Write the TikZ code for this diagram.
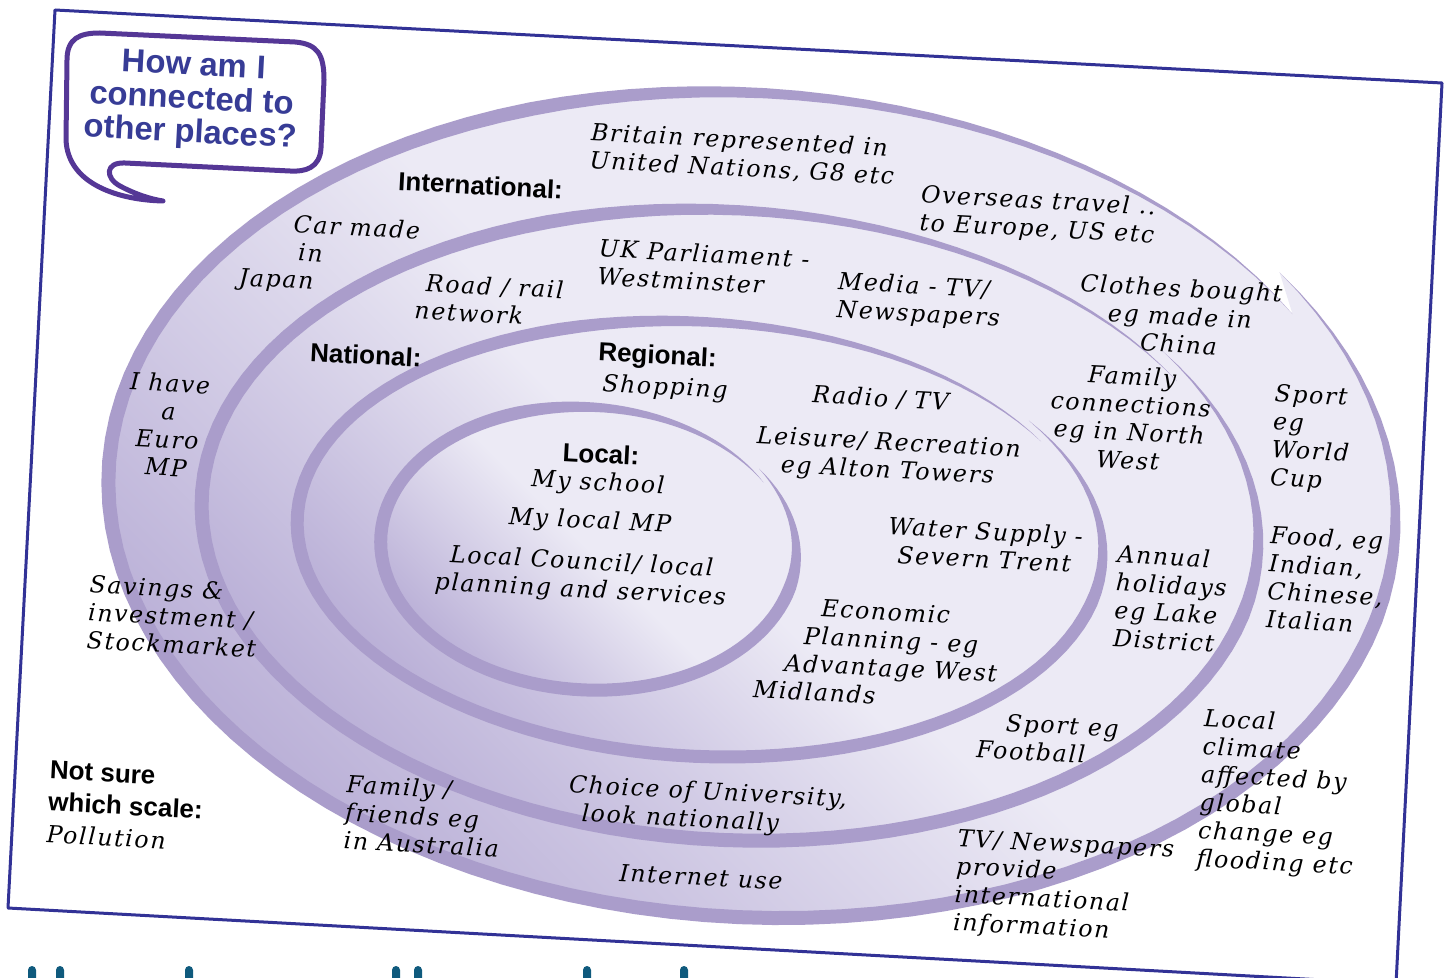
\documentclass[tikz,border=0pt]{standalone}
\usepackage{fontspec}
\setsansfont{Liberation Sans}
\newfontfamily\handfont{DejaVu Serif}[LetterSpace=7]
\usetikzlibrary{calc}
\definecolor{bandcolor}{RGB}{170,157,203}
\definecolor{ringfill}{RGB}{236,234,245}
\definecolor{ringdark}{RGB}{186,176,215}
\definecolor{cardline}{RGB}{50,50,150}
\definecolor{bubbleline}{RGB}{85,55,150}
\definecolor{questioncolor}{RGB}{55,60,150}
\definecolor{titlecolor}{RGB}{15,90,125}

\begin{document}
\begin{tikzpicture}[
    x=0.5pt, y=-0.5pt,
    hand/.style={font=\handfont\itshape\fontsize{11.8}{14}\selectfont, align=center, rotate=-3, inner sep=0pt},
    scalelabel/.style={font=\sffamily\bfseries\fontsize{13}{16}\selectfont, align=left, rotate=-3, inner sep=0pt},
    question/.style={font=\sffamily\bfseries\fontsize{16.4}{16.8}\selectfont, text=questioncolor, align=center, rotate=-3, inner sep=0pt},
    ringshade/.style={top color=ringdark, bottom color=ringfill, middle color=ringfill, shading angle=135},
    band/.style={fill=bandcolor}
]
    \useasboundingbox (0,0) rectangle (1449,978);
    \fill[white] (0,0) rectangle (1449,978);

    % Card
    \draw[cardline, line width=1.5pt, line join=round] (55,10) -- (1442,83) -- (1396,984) -- (8,908) -- cycle;

    % Rings (outer to inner), each one a spiral turn
    \foreach \cx/\cy/\ra/\rb/\w/\d in {747/500/641/414/14/20, 727/522/527/316/14/12, 698/537/402/218/13/8, 587/547/207/142/13/6} {
        \begin{scope}[shift={(\cx,\cy)}, rotate=-3,
            declare function={rxx(\t)=\ra+\d/2-\d*\t/365; ryy(\t)=\rb+\d/2-\d*\t/365; bw(\t)=\w*min(1,\t/50,(365-\t)/80);}]
            \shade[ringshade] plot[domain=0:365, samples=120, variable=\t] ({rxx(\t)*cos(\t-37)}, {ryy(\t)*sin(\t-37)}) -- cycle;
            \fill[band] plot[domain=0:365, samples=120, variable=\t] ({(rxx(\t)+bw(\t)/2)*cos(\t-37)}, {(ryy(\t)+bw(\t)/2)*sin(\t-37)})
                -- plot[domain=365:0, samples=120, variable=\t] ({(rxx(\t)-bw(\t)/2)*cos(\t-37)}, {(ryy(\t)-bw(\t)/2)*sin(\t-37)}) -- cycle;
        \end{scope}
    }

    % Speech bubble
    \draw[bubbleline, line width=2.5pt, line cap=round, line join=round]
        (163,201) .. controls (120,200) and (68,185) .. (66,140) -- (67,60)
        .. controls (67,38) and (80,33) .. (100,33) -- (295,42)
        .. controls (318,44) and (324,55) .. (324,80) -- (321,148)
        .. controls (320,168) and (305,172) .. (290,171) -- (125,163)
        .. controls (105,162) and (105,178) .. (120,186)
        .. controls (135,194) and (150,199) .. (163,201);
    \node[question] (howam) at (192,101) {How am I\\connected to\\other places?};

    % International
    \node[scalelabel, anchor=west] (international) at (398,181) {International:};
    \node[hand, anchor=west, align=left] (britain) at (590,147) {Britain represented in\\United Nations, G8 etc};
    \node[hand, anchor=west, align=left] (overseas) at (920,210) {Overseas travel ..\\to Europe, US etc};
    \node[hand, anchor=west, align=left] (japan) at (240,251) {\hspace*{26pt}Car made\\\hspace*{29pt}in\\Japan};
    \node[hand] (clothes) at (1180,316) {Clothes bought\\eg made in\\China};
    \node[hand, anchor=west, align=left] (sportcup) at (1272,437) {Sport\\eg\\World\\Cup};
    \node[hand] (europ) at (168,425) {I have\\a\\Euro\\MP};
    \node[hand, anchor=west, align=left] (food) at (1268,577) {Food, eg\\Indian,\\Chinese,\\Italian};
    \node[hand, anchor=west, align=left] (savings) at (88,612) {Savings \&\\investment /\\Stockmarket};
    \node[hand, anchor=west, align=left] (australia) at (345,812) {Family /\\friends eg\\in Australia};
    \node[hand] (internet) at (701,877) {Internet use};
    \node[hand, anchor=west, align=left] (tvnews) at (955,882) {TV/ Newspapers\\provide\\international\\information};

    % National
    \node[scalelabel, anchor=west] (national) at (310,352) {National:};
    \node[hand, anchor=west, align=left] (parliament) at (598,262) {UK Parliament -\\Westminster};
    \node[hand, anchor=west, align=left] (road) at (415,296) {\hspace*{5pt}Road / rail\\network};
    \node[hand, anchor=west, align=left] (media) at (837,297) {Media - TV/\\Newspapers};
    \node[hand] (family) at (1130,418) {Family\\connections\\eg in North\\West};
    \node[hand, anchor=west, align=left] (holidays) at (1115,596) {Annual\\holidays\\eg Lake\\District};
    \node[hand, anchor=west, align=left] (football) at (977,735) {\hspace*{14pt}Sport eg\\Football};
    \node[hand, anchor=west, align=left] (university) at (568,800) {Choice of University,\\\hspace*{7pt}look nationally};

    % Regional
    \node[scalelabel, anchor=west] (regional) at (598,354) {Regional:};
    \node[hand, anchor=west] (shopping) at (602,385) {Shopping};
    \node[hand, anchor=west] (radio) at (812,395) {Radio / TV};
    \node[hand] (leisure) at (888,458) {Leisure/ Recreation\\eg Alton Towers};
    \node[hand] (water) at (985,545) {Water Supply -\\Severn Trent};
    \node[hand, anchor=west, align=left] (economic) at (755,647) {\hspace*{32pt}Economic\\\hspace*{24pt}Planning - eg\\\hspace*{15pt}Advantage West\\Midlands};

    % Local
    \node[scalelabel] (local) at (601,454) {Local:};
    \node[hand] (school) at (598,484) {My school};
    \node[hand] (localmp) at (590,522) {My local MP};
    \node[hand] (council) at (581,577) {Local Council/ local\\planning and services};

    % Outside the rings
    \node[hand, anchor=west, align=left] (climate) at (1200,790) {Local\\climate\\affected by\\global\\change eg\\flooding etc};
    \node[scalelabel, anchor=west] (notsure) at (48,802) {Not sure\\which scale:\\{\handfont\mdseries\itshape\fontsize{11.8}{14}\selectfont Pollution}};

    % Tops of the title letters below the card
    \foreach \x in {32,60,189,396,418,587,684}
        \fill[titlecolor, rounded corners=2pt] (\x-4,966) rectangle (\x+4,990);
\end{tikzpicture}
\end{document}
